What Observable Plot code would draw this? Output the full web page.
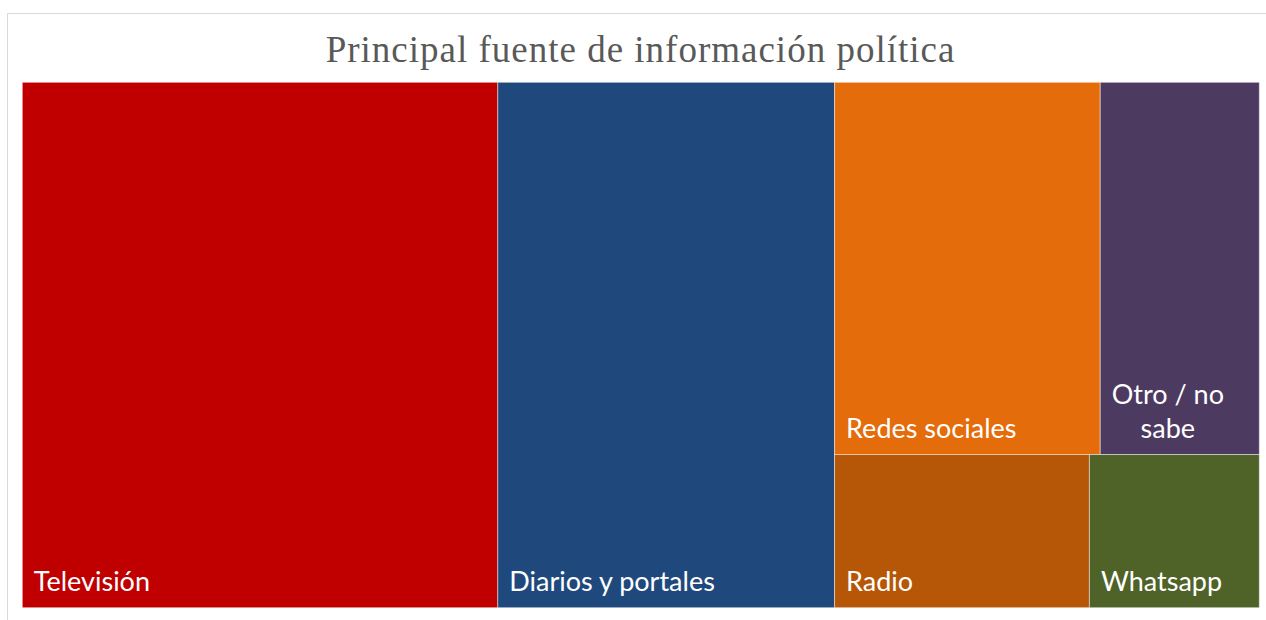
<!DOCTYPE html>
<html>
<head>
<meta charset="utf-8">
<script src="https://cdn.jsdelivr.net/npm/d3@7"></script>
<script src="https://cdn.jsdelivr.net/npm/@observablehq/plot@0.6"></script>
<style>
  html, body { margin: 0; padding: 0; background: #fff; width: 1266px; height: 620px; overflow: hidden; }
  #frame { position: absolute; left: 7px; top: 13px; width: 1275px; height: 625px; border: 1px solid #d9d9d9; box-sizing: border-box; }
  #title { position: absolute; left: 0; top: 31px; width: 1281px; text-align: center;
           font-family: "Liberation Serif", serif; font-size: 37px; line-height: 37px; letter-spacing: 1px;
           color: #595959; white-space: nowrap; }
  #chart { position: absolute; left: 0; top: 74px; }
</style>
</head>
<body>
<div id="frame"></div>
<div id="title">Principal fuente de información política</div>
<div id="chart"></div>
<script>
// Data (percent share of respondents)
const categories = ["Televisión", "Diarios y portales", "Redes sociales", "Otro / no sabe", "Radio", "Whatsapp"];
const values = [38.4, 27.2, 15.2, 9.1, 6.0, 4.0];
const colors = ["#C00000", "#1F497D", "#E46C0A", "#4D3A61", "#B65708", "#4F6228"];

const W = 1266, H = 542;
const mL = 22.3, mR = 6.7, mT = 8.3, mB = 8.3;
const plotW = W - mL - mR;
const fontSize = 27;
const labelFont = `${fontSize}px Lato`;

const leaf = i => ({name: categories[i], value: values[i], color: colors[i]});
const tree = {
  children: [
    leaf(0), leaf(1),
    {children: [{children: [leaf(2), leaf(3)]}, {children: [leaf(4), leaf(5)]}]}
  ]
};
const root = d3.hierarchy(tree).sum(d => d.value || 0);
d3.treemap().size([1, 1]).tile(d3.treemapSliceDice)(root);
const tiles = root.leaves().map(d => ({
  name: d.data.name, color: d.data.color, value: d.data.value,
  x0: d.x0, x1: d.x1, y0: d.y0, y1: d.y1
}));

// text wrapping like the source chart
const ctx = document.createElement("canvas").getContext("2d");
ctx.font = labelFont;
const pad = 11;
tiles.forEach(t => {
  const avail = (t.x1 - t.x0) * plotW - 2 * pad;
  if (ctx.measureText(t.name).width <= avail) {
    t.label = t.name; t.anchor = "start"; t.dx = pad;
  } else {
    const words = t.name.split(" ");
    const lines = [];
    let cur = "";
    for (const w of words) {
      const test = cur ? cur + " " + w : w;
      if (ctx.measureText(test).width > avail && cur) { lines.push(cur); cur = w; } else cur = test;
    }
    if (cur) lines.push(cur);
    const maxW = d3.max(lines, l => ctx.measureText(l).width);
    t.label = lines.join("\n"); t.anchor = "middle"; t.dx = pad + maxW / 2;
  }
});

const startTiles = tiles.filter(t => t.anchor === "start");
const midTiles = tiles.filter(t => t.anchor === "middle");

const chart = Plot.plot({
  width: W, height: H,
  marginLeft: mL, marginRight: mR, marginTop: mT, marginBottom: mB,
  x: {domain: [0, 1], axis: null},
  y: {domain: [0, 1], reverse: true, axis: null},
  style: {background: "transparent"},
  marks: [
    Plot.rect(tiles, {x1: "x0", x2: "x1", y1: "y0", y2: "y1", fill: "color",
      stroke: "#ffffff", strokeOpacity: 0.45, strokeWidth: 1}),
    Plot.text(startTiles, {x: "x0", y: "y1", text: "label", textAnchor: "start", lineAnchor: "bottom",
      dx: pad, dy: -17, fill: "white", fontSize: fontSize, fontFamily: "Lato"}),
    ...midTiles.map(t => Plot.text([t], {x: "x0", y: "y1", text: "label", textAnchor: "middle", lineAnchor: "bottom",
      lineHeight: 1.27, dx: t.dx, dy: -17, fill: "white", fontSize: fontSize, fontFamily: "Lato"}))
  ]
});
document.getElementById("chart").appendChild(chart);
</script>
</body>
</html>
